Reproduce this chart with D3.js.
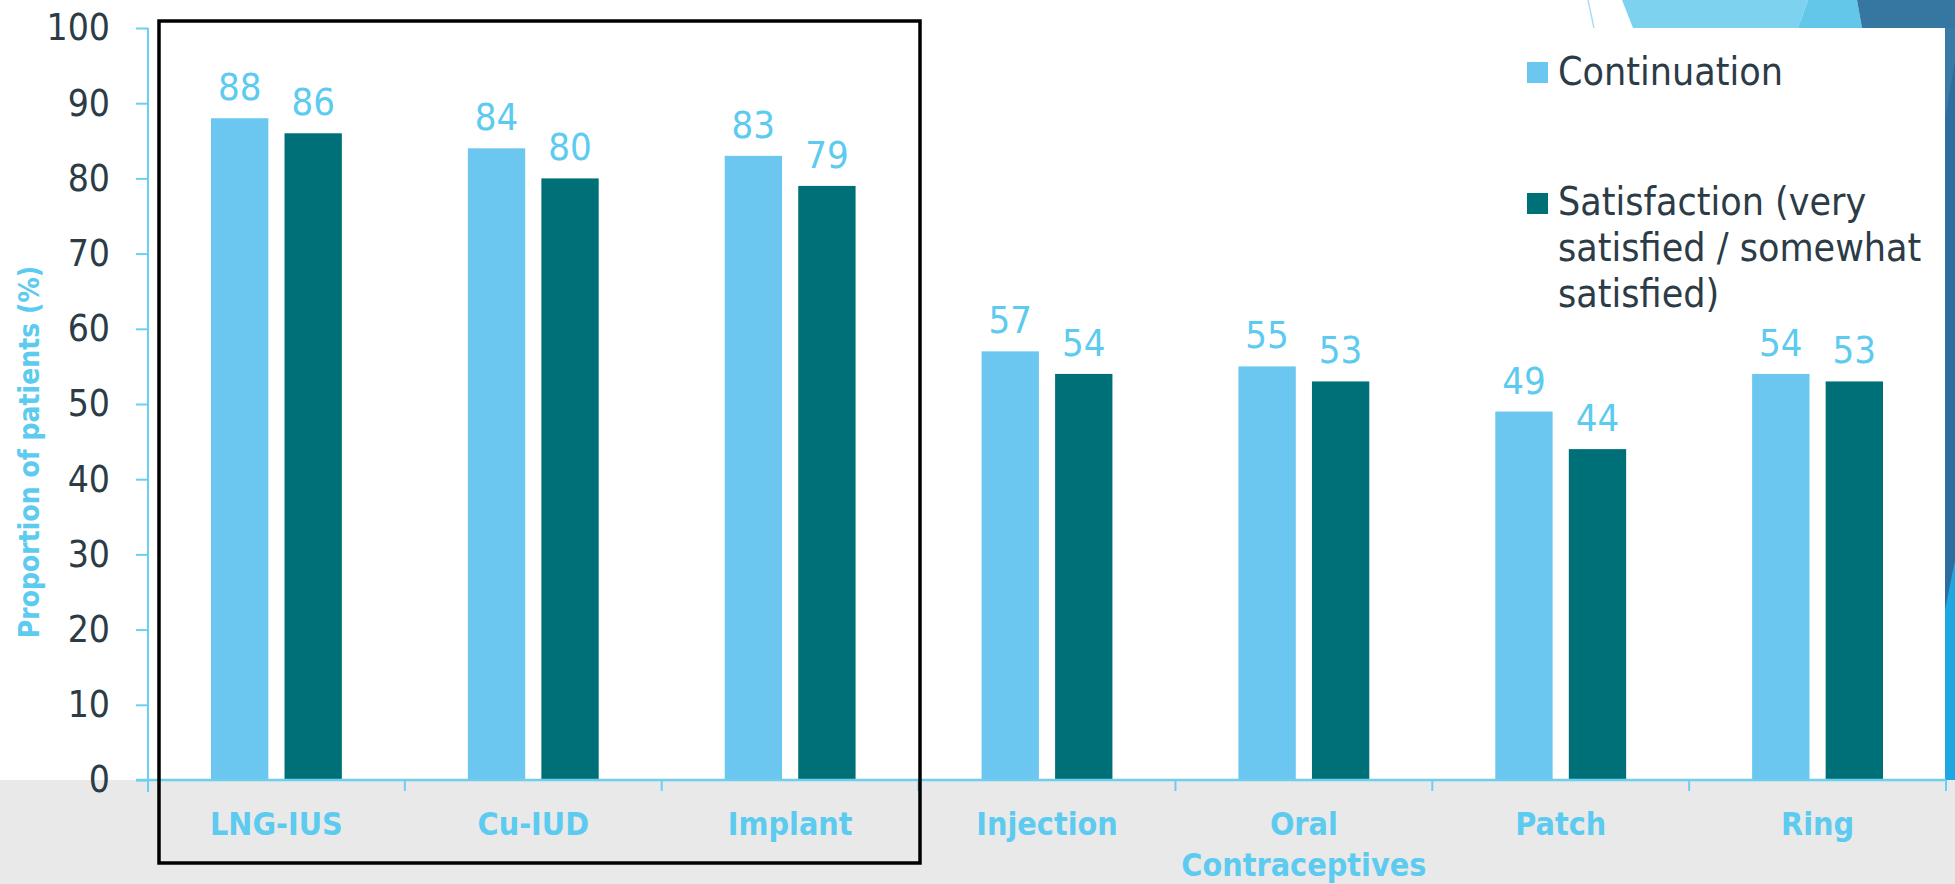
<!DOCTYPE html>
<html>
<head>
<meta charset="utf-8">
<script src="https://cdn.jsdelivr.net/npm/d3@7/dist/d3.min.js"></script>
<style>
  html, body { margin: 0; padding: 0; background: #ffffff; }
  svg { display: block; }
  text { font-family: "DejaVu Sans Condensed", "DejaVu Sans", sans-serif; font-stretch: condensed; }
</style>
</head>
<body>
<svg id="chart" width="1955" height="884"></svg>
<script>
// Contraceptive methods and the share of patients continuing / satisfied (%)
const categories = ["LNG-IUS", "Cu-IUD", "Implant", "Injection", "Oral Contraceptives", "Patch", "Ring"];
const categoryLines = [["LNG-IUS"], ["Cu-IUD"], ["Implant"], ["Injection"], ["Oral", "Contraceptives"], ["Patch"], ["Ring"]];
const continuation = [88, 84, 83, 57, 55, 49, 54];
const satisfaction = [86, 80, 79, 54, 53, 44, 53];
const seriesNames = ["Continuation", "Satisfaction (very satisfied / somewhat satisfied)"];
const legendLines = [["Continuation"], ["Satisfaction (very", "satisfied / somewhat", "satisfied)"]];
const yTicks = [0, 10, 20, 30, 40, 50, 60, 70, 80, 90, 100];
const yTitle = "Proportion of patients (%)";

const colors = { "Continuation": "#6bc6f0", "Satisfaction (very satisfied / somewhat satisfied)": "#007078" };
const axisColor = "#6dcff0";
const labelBlue = "#5ccbef";
const darkText = "#2c3c47";

const W = 1955, H = 884;
const svg = d3.select("#chart");

// page backdrop: grey strip under the axis, theme ribbons at the top-right and right edge
svg.append("rect").attr("x", 0).attr("y", 0).attr("width", W).attr("height", H).attr("fill", "#ffffff");
svg.append("rect").attr("x", 0).attr("y", 780).attr("width", W).attr("height", H - 780).attr("fill", "#e9e9e9");

const deco = svg.append("g");
deco.append("line").attr("x1", 1588).attr("y1", 0).attr("x2", 1594).attr("y2", 28)
  .attr("stroke", "#a9def1").attr("stroke-width", 1.5);
deco.append("polygon").attr("points", "1622,0 1808,0 1798,28 1633,28").attr("fill", "#7dd2f0");
deco.append("polygon").attr("points", "1808,0 1857,0 1862,28 1798,28").attr("fill", "#63c7ea");
deco.append("polygon").attr("points", "1857,0 1955,0 1955,28 1862,28").attr("fill", "#3577a1");
deco.append("rect").attr("x", 1945).attr("y", 28).attr("width", 10).attr("height", 752).attr("fill", "#1ea7e0");
deco.append("polygon").attr("points", "1945,28 1955,28 1955,560 1945,610").attr("fill", "#2c6ea0");
deco.append("polygon").attr("points", "1945,28 1955,28 1955,60 1945,120").attr("fill", "#3a7aa6");

// scales
const x0 = d3.scaleBand().domain(categories).range([148, 1946]).paddingInner(0).paddingOuter(0);
const x1 = d3.scaleBand().domain(seriesNames).range([63, x0.bandwidth() - 63]).paddingInner(0.22);
const y = d3.scaleLinear().domain([0, 100]).range([780, 28]);

const rows = categories.map((c, i) => ({
  cat: c,
  values: [
    { key: seriesNames[0], value: continuation[i] },
    { key: seriesNames[1], value: satisfaction[i] }
  ]
}));

// bars
const groups = svg.append("g").selectAll("g").data(rows).join("g")
  .attr("transform", d => `translate(${x0(d.cat)},0)`);

groups.selectAll("rect").data(d => d.values).join("rect")
  .attr("x", d => x1(d.key))
  .attr("y", d => y(d.value))
  .attr("width", x1.bandwidth())
  .attr("height", d => y(0) - y(d.value))
  .attr("fill", d => colors[d.key]);

// value labels
groups.selectAll("text.val").data(d => d.values).join("text")
  .attr("class", "val")
  .attr("x", d => x1(d.key) + x1.bandwidth() / 2)
  .attr("y", d => y(d.value) - 18)
  .attr("text-anchor", "middle")
  .attr("font-size", 38)
  .attr("fill", labelBlue)
  .text(d => d.value);

// y axis
const yAxis = svg.append("g").attr("transform", "translate(148,0)")
  .call(d3.axisLeft(y).tickValues(yTicks).tickSize(12).tickSizeOuter(0).tickPadding(26));
yAxis.select(".domain").remove();
yAxis.selectAll(".tick line").attr("stroke", axisColor).attr("stroke-width", 2);
yAxis.selectAll(".tick text").attr("font-size", 37).attr("fill", darkText)
  .style("font-family", "\"DejaVu Sans Condensed\", \"DejaVu Sans\", sans-serif");
svg.append("line").attr("x1", 148).attr("x2", 148).attr("y1", y(100)).attr("y2", y(0) + 12)
  .attr("stroke", axisColor).attr("stroke-width", 2);

// x axis line and category boundary ticks
svg.append("line").attr("x1", 136).attr("x2", x0.range()[1]).attr("y1", y(0)).attr("y2", y(0))
  .attr("stroke", axisColor).attr("stroke-width", 2.5);
const bounds = categories.map(c => x0(c)).concat([x0.range()[1]]);
svg.append("g").selectAll("line").data(bounds.slice(1)).join("line")
  .attr("x1", d => d).attr("x2", d => d).attr("y1", y(0)).attr("y2", y(0) + 11)
  .attr("stroke", axisColor).attr("stroke-width", 2);

// category labels
const xLab = svg.append("g").selectAll("text").data(categories).join("text")
  .attr("x", c => x0(c) + x0.bandwidth() / 2)
  .attr("y", 835)
  .attr("text-anchor", "middle")
  .attr("font-size", 32)
  .attr("font-weight", "bold")
  .attr("fill", labelBlue);
xLab.each(function(c, i) {
  const t = d3.select(this);
  categoryLines[i].forEach((line, j) => {
    t.append("tspan").attr("x", x0(c) + x0.bandwidth() / 2).attr("dy", j === 0 ? 0 : 41).text(line);
  });
});

// y axis title
svg.append("text")
  .attr("transform", `translate(39,${(267 + 637) / 2}) rotate(-90)`)
  .attr("text-anchor", "middle")
  .attr("font-size", 28)
  .attr("font-weight", "bold")
  .attr("fill", labelBlue)
  .text(yTitle);

// highlight frame around the long-acting methods
svg.append("rect").attr("x", 159).attr("y", 21).attr("width", 920 - 159).attr("height", 863 - 21)
  .attr("fill", "none").attr("stroke", "#000000").attr("stroke-width", 3.5);

// legend
const legendY = [[62, 85], [193, 215]];
const legend = svg.append("g");
seriesNames.forEach((s, i) => {
  legend.append("rect").attr("x", 1527).attr("y", legendY[i][0]).attr("width", 21).attr("height", 21)
    .attr("fill", colors[s]);
  const t = legend.append("text").attr("x", 1558).attr("y", legendY[i][1])
    .attr("font-size", 39).attr("fill", darkText);
  legendLines[i].forEach((line, j) => {
    t.append("tspan").attr("x", 1558).attr("dy", j === 0 ? 0 : 46).text(line);
  });
});
</script>
</body>
</html>
